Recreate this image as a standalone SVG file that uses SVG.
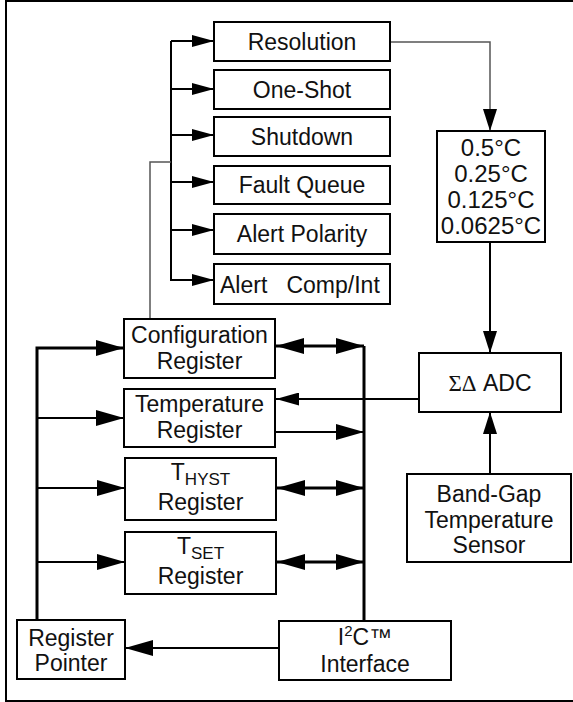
<svg xmlns="http://www.w3.org/2000/svg" width="573" height="702" viewBox="0 0 573 702">
<style>
.box{fill:#fff;stroke:#000;stroke-width:2}
.t{font-family:"Liberation Sans",Arial,sans-serif;font-size:23px;fill:#111;text-anchor:middle}
.v{font-size:24px}
.ln{fill:none;stroke:#000;stroke-width:2}
.bus{fill:none;stroke:#000;stroke-width:3}
.thin{fill:none;stroke:#555;stroke-width:1.5}
</style>
<defs>
<marker id="as" markerUnits="userSpaceOnUse" markerWidth="22" markerHeight="12" refX="22" refY="6" orient="auto"><path d="M0,0 L22,6 L0,12 z" fill="#000"/></marker>
<marker id="al" markerUnits="userSpaceOnUse" markerWidth="28" markerHeight="16" refX="28" refY="8" orient="auto-start-reverse"><path d="M0,0 L28,8 L0,16 z" fill="#000"/></marker>
<marker id="am" markerUnits="userSpaceOnUse" markerWidth="23" markerHeight="13" refX="23" refY="6.5" orient="auto"><path d="M0,0 L23,6.5 L0,13 z" fill="#000"/></marker>
<marker id="av" markerUnits="userSpaceOnUse" markerWidth="22" markerHeight="14" refX="22" refY="7" orient="auto"><path d="M0,0 L22,7 L0,14 z" fill="#000"/></marker>
</defs>
<path d="M580,1 H6 V701 H580" fill="none" stroke="#000" stroke-width="2"/>
<g id="connectors">
<path class="ln" d="M171,41 V281" stroke-width="2.5"/>
<path class="ln" d="M171,41 H214" marker-end="url(#as)"/>
<path class="ln" d="M171,89 H214" marker-end="url(#as)"/>
<path class="ln" d="M171,135 H214" marker-end="url(#as)"/>
<path class="ln" d="M171,182 H214" marker-end="url(#as)"/>
<path class="ln" d="M171,230 H214" marker-end="url(#as)"/>
<path class="ln" d="M171,280 H214" marker-end="url(#as)"/>
<path class="thin" d="M150,319 V162 H171"/>
<path class="thin" d="M390,42 H490 V131" marker-end="url(#av)"/>
<path class="ln" d="M490,242 V353" marker-end="url(#av)"/>
<path class="ln" d="M490,474 V412" marker-end="url(#av)"/>
<path class="bus" d="M37,620 V348 H124" marker-end="url(#al)"/>
<path class="ln" d="M37,418 H124" marker-end="url(#al)"/>
<path class="ln" d="M37,488 H125" marker-end="url(#al)"/>
<path class="ln" d="M37,562 H125" marker-end="url(#al)"/>
<path class="bus" d="M364,346 V621"/>
<path class="bus" d="M276,346 H364" marker-start="url(#al)" marker-end="url(#al)"/>
<path class="bus" d="M277,488 H364" marker-start="url(#al)" marker-end="url(#al)"/>
<path class="bus" d="M277,562 H364" marker-start="url(#al)" marker-end="url(#al)"/>
<path class="ln" d="M275,432 H364" marker-end="url(#al)"/>
<path class="ln" d="M419,399 H276" stroke-width="1.5" marker-end="url(#am)"/>
<path class="ln" d="M279,648 H125" marker-end="url(#al)"/>
</g>
<g id="resolution"><rect class="box" x="214" y="22" width="176" height="39"/><text class="t" x="302" y="50">Resolution</text></g>
<g id="oneshot"><rect class="box" x="214" y="70" width="176" height="39"/><text class="t" x="302" y="98">One-Shot</text></g>
<g id="shutdown"><rect class="box" x="214" y="117" width="176" height="39"/><text class="t" x="302" y="145">Shutdown</text></g>
<g id="faultqueue"><rect class="box" x="214" y="166" width="176" height="38"/><text class="t" x="302" y="193">Fault Queue</text></g>
<g id="alertpolarity"><rect class="box" x="214" y="214" width="176" height="40"/><text class="t" x="302" y="242">Alert Polarity</text></g>
<g id="alertcomp"><rect class="box" x="214" y="264" width="176" height="40"/><text class="t" x="220" y="293" style="text-anchor:start" xml:space="preserve">Alert   Comp/Int</text></g>
<g id="values"><rect class="box" x="437" y="131" width="108" height="111"/>
<text class="t v" x="491" y="156">0.5°C</text><text class="t v" x="491" y="182">0.25°C</text><text class="t v" x="491" y="208">0.125°C</text><text class="t v" x="491" y="234">0.0625°C</text></g>
<g id="adc"><rect class="box" x="419" y="353" width="142" height="59"/><text class="t" x="490" y="391"><tspan font-family="'Liberation Serif',serif">ΣΔ</tspan> ADC</text></g>
<g id="bandgap"><rect class="box" x="407" y="474" width="164" height="88"/>
<text class="t" x="489" y="502">Band-Gap</text><text class="t" x="489" y="528">Temperature</text><text class="t" x="489" y="553">Sensor</text></g>
<g id="config"><rect class="box" x="124" y="319" width="151" height="59"/>
<text class="t" x="199.5" y="343">Configuration</text><text class="t" x="199.5" y="369">Register</text></g>
<g id="temperature"><rect class="box" x="124" y="389" width="151" height="58"/>
<text class="t" x="199.5" y="412">Temperature</text><text class="t" x="199.5" y="438">Register</text></g>
<g id="thyst"><rect class="box" x="125" y="458" width="151" height="62"/>
<text class="t" x="200.5" y="480">T<tspan font-size="17" dy="5">HYST</tspan></text><text class="t" x="200.5" y="510">Register</text></g>
<g id="tset"><rect class="box" x="125" y="532" width="151" height="62"/>
<text class="t" x="200.5" y="554">T<tspan font-size="17" dy="5">SET</tspan></text><text class="t" x="200.5" y="584">Register</text></g>
<g id="pointer"><rect class="box" x="17" y="620" width="108" height="59"/>
<text class="t" x="71" y="646">Register</text><text class="t" x="71" y="671">Pointer</text></g>
<g id="i2c"><rect class="box" x="279" y="621" width="172" height="59"/>
<text class="t" x="365" y="645">I<tspan font-size="15" dy="-9">2</tspan><tspan dy="9">C™</tspan></text><text class="t" x="365" y="672">Interface</text></g>
</svg>
